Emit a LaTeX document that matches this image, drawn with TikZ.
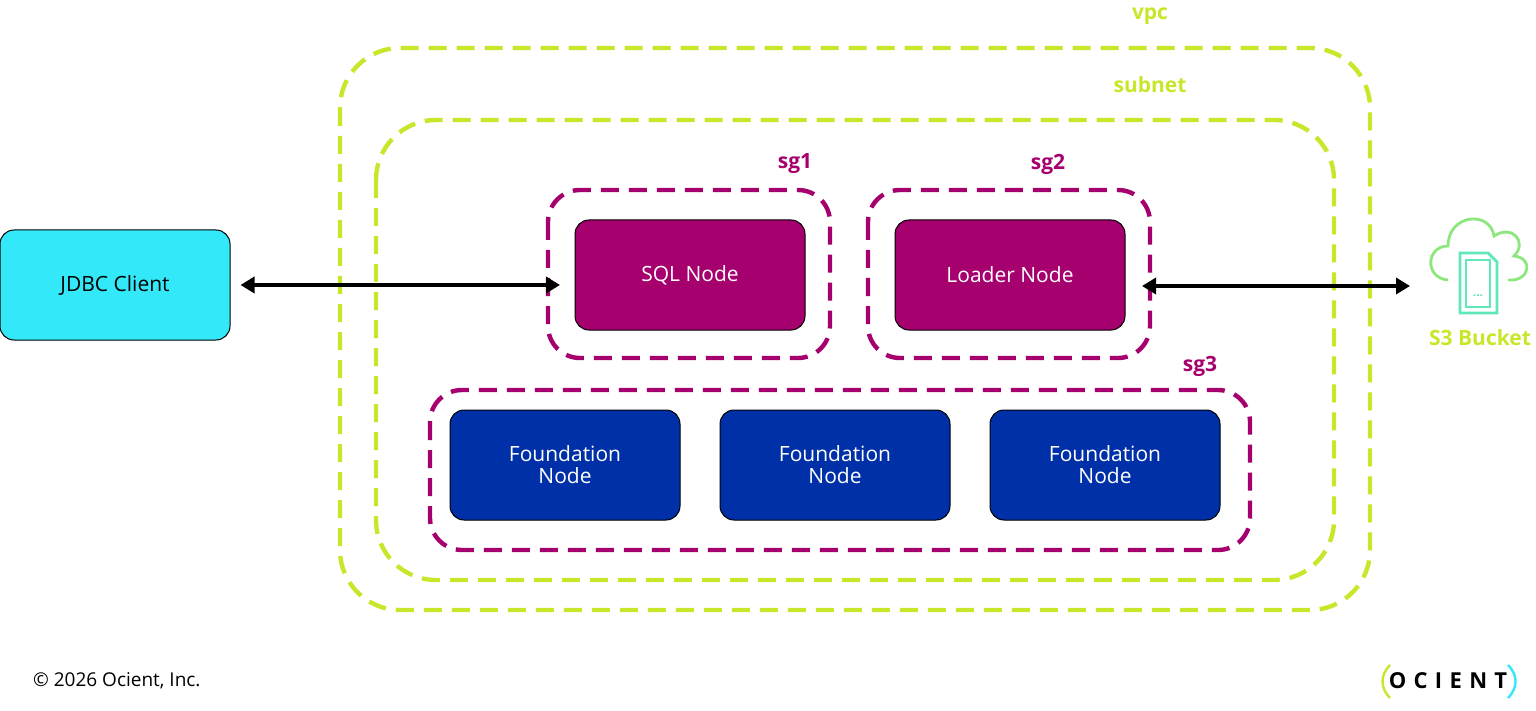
\documentclass[tikz,border=0pt]{standalone}
\usepackage{fontspec}
\setmainfont{Open Sans}
\usetikzlibrary{arrows.meta}
\definecolor{lime}{HTML}{C8E62A}
\definecolor{mag}{HTML}{A5006E}
\definecolor{navy}{HTML}{0030A8}
\definecolor{cyan1}{HTML}{33E8F8}
\begin{document}
\begin{tikzpicture}[x=0.5pt,y=-0.5pt,
 zone/.style={draw=lime,line width=2.2pt,dash pattern=on 9pt off 5pt},
 sg/.style={draw=mag,line width=2.2pt,dash pattern=on 9pt off 5pt},
 box/.style={draw=black,line width=0.5pt,rounded corners=7pt,minimum width=115pt,minimum height=55pt,text=white,font=\fontsize{10.5}{12}\selectfont,align=center},
 lbl/.style={font=\bfseries\fontsize{10.5}{12}\selectfont},
 arr/.style={line width=1.8pt,{Triangle[length=7pt,width=8pt]}-{Triangle[length=7pt,width=8pt]}}]
\useasboundingbox (0,0) rectangle (1536,711);
\draw[zone,rounded corners=30pt] (340,48) rectangle (1370,610);
\node[lbl,text=lime] (vpc) at (1150,16) {vpc};
\draw[zone,rounded corners=30pt] (376,120) rectangle (1334,580);
\node[lbl,text=lime] (subnet) at (1150,85) {subnet};
\draw[sg,rounded corners=16pt] (548,190) rectangle (830,358);
\node[lbl,text=mag] (l1) at (795,164) {sg1};
\draw[sg,rounded corners=16pt] (868,190) rectangle (1150,358);
\node[lbl,text=mag] (l2) at (1048,164) {sg2};
\draw[sg,rounded corners=16pt] (430,390) rectangle (1250,550);
\node[lbl,text=mag] (l3) at (1200,366) {sg3};
\node[box,fill=mag] (sql) at (690,275) {SQL Node};
\node[box,fill=mag] (loader) at (1010,275) {Loader Node};
\node[box,fill=navy] (f1) at (565,465) {Foundation\\[-1pt]Node};
\node[box,fill=navy] (f2) at (835,465) {Foundation\\[-1pt]Node};
\node[box,fill=navy] (f3) at (1105,465) {Foundation\\[-1pt]Node};
\node[box,fill=cyan1,text=black] (jdbc) at (115,285) {JDBC Client};
\coordinate (a1) at (560,285);
\draw[arr] ([xshift=5pt]jdbc.east) -- (a1);
\coordinate (s3in) at (1410,286);
\draw[arr] (1142,286) -- (s3in);
% S3 icon
\begin{scope}[line width=1.4pt]
\draw[draw=lime!60!cyan1] (1448,280) .. controls (1424,278) and (1426,246) .. (1448,246)
 .. controls (1448,214) and (1490,210) .. (1494,236)
 .. controls (1512,224) and (1528,242) .. (1514,256)
 .. controls (1534,258) and (1530,282) .. (1508,280);
\fill[white] (1454,250) rectangle (1502,316);
\draw[cyan1!70!lime] (1460,253) -- (1488,253) -- (1497,262) -- (1497,313) -- (1460,313) -- cycle;
\draw[cyan1!70!lime] (1466,260) rectangle (1490,307);
\end{scope}
\node[font=\bfseries\fontsize{6}{6}\selectfont,text=cyan1!70!lime] (dots) at (1478,296) {...};
\node[lbl,text=lime] (s3) at (1480,338) {S3 Bucket};
\node[anchor=west,font=\fontsize{9.5}{11}\selectfont] (copy) at (26,681) {© 2026 Ocient, Inc.};
\node[font=\bfseries\fontsize{11}{12}\selectfont] (logo) at (1448,681) {O\,\,C\,\,I\,\,E\,\,N\,\,T};
\draw[lime,line width=1.2pt] (1390,665) .. controls (1380,675) and (1380,688) .. (1390,698);
\draw[cyan1,line width=1.2pt] (1508,665) .. controls (1518,675) and (1518,688) .. (1508,698);
\end{tikzpicture}
\end{document}
